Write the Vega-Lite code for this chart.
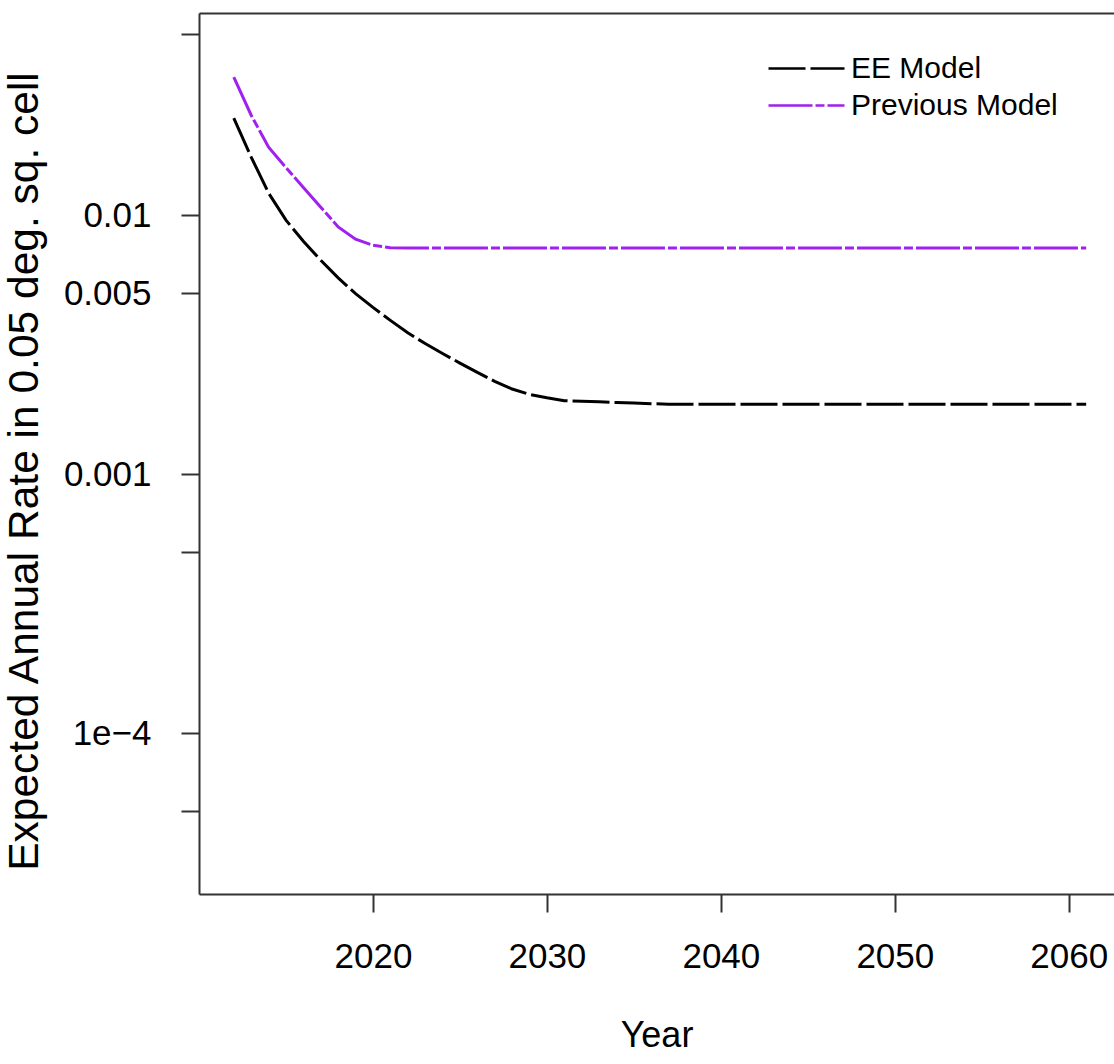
{
  "$schema": "https://vega.github.io/schema/vega-lite/v6.json",
  "width": 915,
  "height": 881,
  "autosize": "none",
  "padding": {"left": 199, "top": 13, "right": 0, "bottom": 170},
  "background": "white",
  "config": {"view": {"stroke": null}, "font": "Liberation Sans"},
  "data": {"values": [
    {"year": 2012, "rate": 0.0237, "model": "EE Model"},
    {"year": 2013, "rate": 0.01675, "model": "EE Model"},
    {"year": 2014, "rate": 0.01216, "model": "EE Model"},
    {"year": 2015, "rate": 0.00956, "model": "EE Model"},
    {"year": 2016, "rate": 0.00792, "model": "EE Model"},
    {"year": 2017, "rate": 0.00669, "model": "EE Model"},
    {"year": 2018, "rate": 0.00572, "model": "EE Model"},
    {"year": 2019, "rate": 0.00497, "model": "EE Model"},
    {"year": 2020, "rate": 0.0044, "model": "EE Model"},
    {"year": 2021, "rate": 0.00392, "model": "EE Model"},
    {"year": 2022, "rate": 0.00351, "model": "EE Model"},
    {"year": 2023, "rate": 0.00319, "model": "EE Model"},
    {"year": 2024, "rate": 0.00292, "model": "EE Model"},
    {"year": 2025, "rate": 0.00268, "model": "EE Model"},
    {"year": 2026, "rate": 0.00247, "model": "EE Model"},
    {"year": 2027, "rate": 0.00228, "model": "EE Model"},
    {"year": 2028, "rate": 0.00213, "model": "EE Model"},
    {"year": 2029, "rate": 0.00203, "model": "EE Model"},
    {"year": 2030, "rate": 0.00197, "model": "EE Model"},
    {"year": 2031, "rate": 0.00192, "model": "EE Model"},
    {"year": 2032, "rate": 0.00191, "model": "EE Model"},
    {"year": 2033, "rate": 0.0019, "model": "EE Model"},
    {"year": 2034, "rate": 0.00189, "model": "EE Model"},
    {"year": 2035, "rate": 0.00188, "model": "EE Model"},
    {"year": 2036, "rate": 0.00187, "model": "EE Model"},
    {"year": 2037, "rate": 0.00186, "model": "EE Model"},
    {"year": 2038, "rate": 0.00186, "model": "EE Model"},
    {"year": 2039, "rate": 0.00186, "model": "EE Model"},
    {"year": 2040, "rate": 0.00186, "model": "EE Model"},
    {"year": 2041, "rate": 0.00186, "model": "EE Model"},
    {"year": 2042, "rate": 0.00186, "model": "EE Model"},
    {"year": 2043, "rate": 0.00186, "model": "EE Model"},
    {"year": 2044, "rate": 0.00186, "model": "EE Model"},
    {"year": 2045, "rate": 0.00186, "model": "EE Model"},
    {"year": 2046, "rate": 0.00186, "model": "EE Model"},
    {"year": 2047, "rate": 0.00186, "model": "EE Model"},
    {"year": 2048, "rate": 0.00186, "model": "EE Model"},
    {"year": 2049, "rate": 0.00186, "model": "EE Model"},
    {"year": 2050, "rate": 0.00186, "model": "EE Model"},
    {"year": 2051, "rate": 0.00186, "model": "EE Model"},
    {"year": 2052, "rate": 0.00186, "model": "EE Model"},
    {"year": 2053, "rate": 0.00186, "model": "EE Model"},
    {"year": 2054, "rate": 0.00186, "model": "EE Model"},
    {"year": 2055, "rate": 0.00186, "model": "EE Model"},
    {"year": 2056, "rate": 0.00186, "model": "EE Model"},
    {"year": 2057, "rate": 0.00186, "model": "EE Model"},
    {"year": 2058, "rate": 0.00186, "model": "EE Model"},
    {"year": 2059, "rate": 0.00186, "model": "EE Model"},
    {"year": 2060, "rate": 0.00186, "model": "EE Model"},
    {"year": 2061, "rate": 0.00186, "model": "EE Model"},
    {"year": 2012, "rate": 0.0341, "model": "Previous Model"},
    {"year": 2013, "rate": 0.0243, "model": "Previous Model"},
    {"year": 2014, "rate": 0.0183, "model": "Previous Model"},
    {"year": 2015, "rate": 0.01524, "model": "Previous Model"},
    {"year": 2016, "rate": 0.01279, "model": "Previous Model"},
    {"year": 2017, "rate": 0.01072, "model": "Previous Model"},
    {"year": 2018, "rate": 0.009, "model": "Previous Model"},
    {"year": 2019, "rate": 0.00807, "model": "Previous Model"},
    {"year": 2020, "rate": 0.00765, "model": "Previous Model"},
    {"year": 2021, "rate": 0.00748, "model": "Previous Model"},
    {"year": 2022, "rate": 0.00746, "model": "Previous Model"},
    {"year": 2023, "rate": 0.00746, "model": "Previous Model"},
    {"year": 2024, "rate": 0.00746, "model": "Previous Model"},
    {"year": 2025, "rate": 0.00746, "model": "Previous Model"},
    {"year": 2026, "rate": 0.00746, "model": "Previous Model"},
    {"year": 2027, "rate": 0.00746, "model": "Previous Model"},
    {"year": 2028, "rate": 0.00746, "model": "Previous Model"},
    {"year": 2029, "rate": 0.00746, "model": "Previous Model"},
    {"year": 2030, "rate": 0.00746, "model": "Previous Model"},
    {"year": 2031, "rate": 0.00746, "model": "Previous Model"},
    {"year": 2032, "rate": 0.00746, "model": "Previous Model"},
    {"year": 2033, "rate": 0.00746, "model": "Previous Model"},
    {"year": 2034, "rate": 0.00746, "model": "Previous Model"},
    {"year": 2035, "rate": 0.00746, "model": "Previous Model"},
    {"year": 2036, "rate": 0.00746, "model": "Previous Model"},
    {"year": 2037, "rate": 0.00746, "model": "Previous Model"},
    {"year": 2038, "rate": 0.00746, "model": "Previous Model"},
    {"year": 2039, "rate": 0.00746, "model": "Previous Model"},
    {"year": 2040, "rate": 0.00746, "model": "Previous Model"},
    {"year": 2041, "rate": 0.00746, "model": "Previous Model"},
    {"year": 2042, "rate": 0.00746, "model": "Previous Model"},
    {"year": 2043, "rate": 0.00746, "model": "Previous Model"},
    {"year": 2044, "rate": 0.00746, "model": "Previous Model"},
    {"year": 2045, "rate": 0.00746, "model": "Previous Model"},
    {"year": 2046, "rate": 0.00746, "model": "Previous Model"},
    {"year": 2047, "rate": 0.00746, "model": "Previous Model"},
    {"year": 2048, "rate": 0.00746, "model": "Previous Model"},
    {"year": 2049, "rate": 0.00746, "model": "Previous Model"},
    {"year": 2050, "rate": 0.00746, "model": "Previous Model"},
    {"year": 2051, "rate": 0.00746, "model": "Previous Model"},
    {"year": 2052, "rate": 0.00746, "model": "Previous Model"},
    {"year": 2053, "rate": 0.00746, "model": "Previous Model"},
    {"year": 2054, "rate": 0.00746, "model": "Previous Model"},
    {"year": 2055, "rate": 0.00746, "model": "Previous Model"},
    {"year": 2056, "rate": 0.00746, "model": "Previous Model"},
    {"year": 2057, "rate": 0.00746, "model": "Previous Model"},
    {"year": 2058, "rate": 0.00746, "model": "Previous Model"},
    {"year": 2059, "rate": 0.00746, "model": "Previous Model"},
    {"year": 2060, "rate": 0.00746, "model": "Previous Model"},
    {"year": 2061, "rate": 0.00746, "model": "Previous Model"}
  ]},
  "encoding": {
    "y": {
      "field": "rate", "type": "quantitative",
      "scale": {"type": "log", "domain": [0.0000239, 0.0603], "nice": false},
      "axis": {
        "values": [0.05, 0.01, 0.005, 0.001, 0.0005, 0.0001, 0.00005],
        "labelExpr": "datum.value == 0.01 ? '0.01' : datum.value == 0.005 ? '0.005' : datum.value == 0.001 ? '0.001' : datum.value == 0.0001 ? '1e\u22124' : ''",
        "grid": false,
        "domainColor": "#333333", "domainWidth": 2,
        "tickColor": "#333333", "tickWidth": 2, "tickSize": 18,
        "labelFontSize": 35, "labelColor": "#000000", "labelPadding": 30,
        "labelOverlap": false, "labelFlush": false, "labelBound": false,
        "title": "Expected Annual Rate in 0.05 deg. sq. cell",
        "titleFontSize": 42.5, "titleFontWeight": "normal", "titleColor": "#000000",
        "titlePadding": 17, "titleY": 458
      }
    },
    "color": {
      "field": "model", "type": "nominal",
      "scale": {"domain": ["EE Model", "Previous Model"], "range": ["#000000", "#A020F0"]},
      "legend": {
        "orient": "none", "legendX": 587, "legendY": 35, "title": null,
        "symbolType": "M-2,0H2", "symbolSize": 1444, "symbolStrokeWidth": 2.5,
        "labelFontSize": 30, "labelColor": "#000000", "labelOffset": 24,
        "rowPadding": 1, "labelLimit": 400
      }
    },
    "strokeDash": {
      "field": "model", "type": "nominal",
      "scale": {"domain": ["EE Model", "Previous Model"], "range": [[37, 5], [44, 3, 9, 3]]},
      "legend": {
        "orient": "none", "legendX": 587, "legendY": 35, "title": null,
        "symbolType": "M-2,0H2", "symbolSize": 1444, "symbolStrokeWidth": 2.5,
        "labelFontSize": 30, "labelColor": "#000000", "labelOffset": 24,
        "rowPadding": 1, "labelLimit": 400
      }
    }
  },
  "layer": [
    {
      "transform": [{"filter": "datum.model == 'EE Model'"}],
      "mark": {"type": "line", "strokeWidth": 3},
      "encoding": {
        "x": {
          "field": "year", "type": "quantitative",
          "scale": {"domain": [2010, 2062.6], "nice": false, "zero": false},
          "axis": {
            "orient": "bottom",
            "values": [2020, 2030, 2040, 2050, 2060], "format": "d",
            "grid": false,
            "domainColor": "#333333", "domainWidth": 2,
            "tickColor": "#333333", "tickWidth": 2, "tickSize": 18,
            "labelFontSize": 35, "labelColor": "#000000", "labelPadding": 27,
            "labelOverlap": false, "labelFlush": false, "labelBound": false,
            "title": "Year", "titleFontSize": 36, "titleFontWeight": "normal",
            "titleColor": "#000000", "titlePadding": 44
          }
        }
      }
    },
    {
      "transform": [{"filter": "datum.model == 'Previous Model'"}],
      "mark": {"type": "line", "strokeWidth": 3},
      "encoding": {
        "x": {
          "field": "year", "type": "quantitative",
          "axis": {
            "orient": "top", "labels": false, "ticks": false, "title": null,
            "grid": false, "domainColor": "#333333", "domainWidth": 2
          }
        }
      }
    }
  ],
  "resolve": {"axis": {"x": "independent"}}
}
